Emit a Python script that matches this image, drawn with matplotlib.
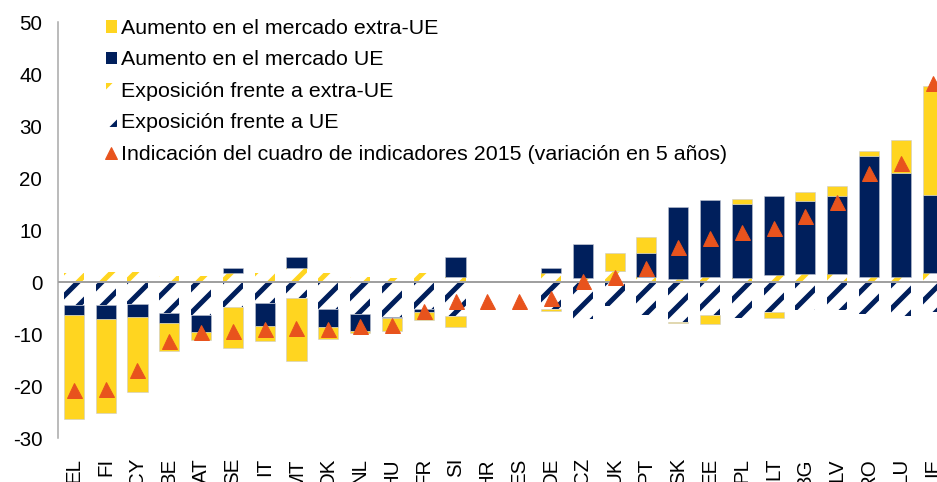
import numpy as np
import matplotlib
matplotlib.use("Agg")
import matplotlib.pyplot as plt
from matplotlib.patches import Patch
from matplotlib.lines import Line2D

# countries, left to right
countries = ["EL", "FI", "CY", "BE", "AT", "SE", "IT", "MT", "DK", "NL", "HU", "FR", "SI", "HR",
             "ES", "DE", "CZ", "UK", "PT", "SK", "EE", "PL", "LT", "BG", "LV", "RO", "LU", "IE"]

# exposure components (hatched)
exp_extra = [1.8, 1.9, 2.0, 1.15, 1.1, 1.8, 1.7, 2.6, 1.7, 1.0, 0.7, 1.7, 0.9, 0.0,
             0.0, 1.7, 0.7, 2.2, 1.0, 0.5, 1.0, 0.7, 1.35, 1.5, 1.5, 1.0, 0.9, 1.7]
exp_eu = [-4.4, -4.4, -4.2, -6.0, -6.3, -4.8, -4.1, -3.0, -5.1, -6.2, -6.8, -5.2, -6.6, 0.0,
          0.0, -5.2, -7.2, -4.7, -6.3, -7.6, -6.3, -7.0, -5.7, -5.4, -5.3, -6.15, -6.5, -5.7]

# market increase components (solid)
inc_eu = [-1.9, -2.8, -2.6, -1.9, -3.3, 0.8, -4.4, 2.15, -3.5, -3.2, -0.2, -0.5, 3.85, 0.0,
          0.0, 1.05, 6.55, 0.0, 4.65, 13.9, 14.8, 14.3, 15.25, 14.1, 15.1, 23.2, 20.0, 15.0]
inc_extra = [-20.1, -17.9, -14.4, -5.3, -1.6, -7.8, -2.8, -12.1, -2.4, -0.5, -2.4, -1.6, -2.0, 0.0,
             0.0, -0.4, 0.0, 3.45, 2.95, -0.35, -1.8, 1.0, -1.3, 1.65, 1.9, 1.05, 6.4, 21.05]

# scoreboard indication (5-year change)
indicator = [-20.7, -20.5, -17.0, -11.4, -9.7, -9.4, -9.1, -8.9, -9.0, -8.5, -8.2, -5.6, -3.65, -3.7,
             -3.7, -3.1, 0.1, 0.9, 2.6, 6.7, 8.4, 9.7, 10.3, 12.7, 15.3, 21.0, 22.8, 38.2]

yellow = "#FFD520"
navy = "#001F5C"
orange = "#E8531D"

plt.rcParams["font.family"] = ["Liberation Sans", "DejaVu Sans"]
plt.rcParams["axes.unicode_minus"] = False
plt.rcParams["hatch.linewidth"] = 5

DPI = 72
fig = plt.figure(figsize=(937 / DPI, 482 / DPI), dpi=DPI)
ax = fig.add_axes([58.3 / 937, 44 / 482, 1 - 58.3 / 937, 416 / 482])

x = np.arange(len(countries))
w = 0.63

ax.bar(x, exp_extra, w, color="white", edgecolor=yellow, hatch="/", linewidth=0, zorder=2)
ax.bar(x, exp_eu, w, color="white", edgecolor=navy, hatch="/", linewidth=0, zorder=2)

pos_base = np.array(exp_extra, dtype=float)
neg_base = np.array(exp_eu, dtype=float)
for vals, col in [(inc_eu, navy), (inc_extra, yellow)]:
    vals = np.array(vals, dtype=float)
    bottom = np.where(vals >= 0, pos_base, neg_base)
    ax.bar(x, vals, w, bottom=bottom, color=col, edgecolor="#C4C8D4", linewidth=0.5, zorder=2)
    pos_base = pos_base + np.clip(vals, 0, None)
    neg_base = neg_base + np.clip(vals, None, 0)

ax.axhline(0, color="#A0A0A0", linewidth=2, zorder=5)
ax.plot(x, indicator, linestyle="none", marker="^", markersize=15, color=orange, zorder=6)

ax.set_ylim(-30, 50)
ax.set_xlim(-0.49, 27.14)
ax.set_yticks(range(-30, 51, 10))
ax.set_xticks(x)
ax.set_xticklabels(countries, rotation=90, va="top", ha="center")
ax.tick_params(axis="y", length=0, pad=16, labelsize=20.5)
ax.tick_params(axis="x", length=0, pad=20, labelsize=20.5)

for s in ["top", "right", "bottom"]:
    ax.spines[s].set_visible(False)
ax.spines["left"].set_color("#A6A6A6")
ax.spines["left"].set_linewidth(1.5)

handles = [
    Patch(facecolor=yellow, linewidth=0),
    Patch(facecolor=navy, linewidth=0),
    Patch(facecolor="white", edgecolor=yellow, hatch="/", linewidth=0),
    Patch(facecolor="white", edgecolor=navy, hatch="/", linewidth=0),
    Line2D([], [], linestyle="none", marker="^", markersize=12, color=orange),
]
labels = [
    "Aumento en el mercado extra-UE",
    "Aumento en el mercado UE",
    "Exposición frente a extra-UE",
    "Exposición frente a UE",
    "Indicación del cuadro de indicadores 2015 (variación en 5 años)",
]
ax.legend(handles, labels, loc="upper left", bbox_to_anchor=(106 / 937, 1 - 19 / 482),
          bbox_transform=fig.transFigure, frameon=False, fontsize=21.4,
          handlelength=0.5, handleheight=0.5, handletextpad=0.2, labelspacing=0.58,
          borderpad=0, borderaxespad=0)

fig.savefig("out.png", dpi=DPI)
